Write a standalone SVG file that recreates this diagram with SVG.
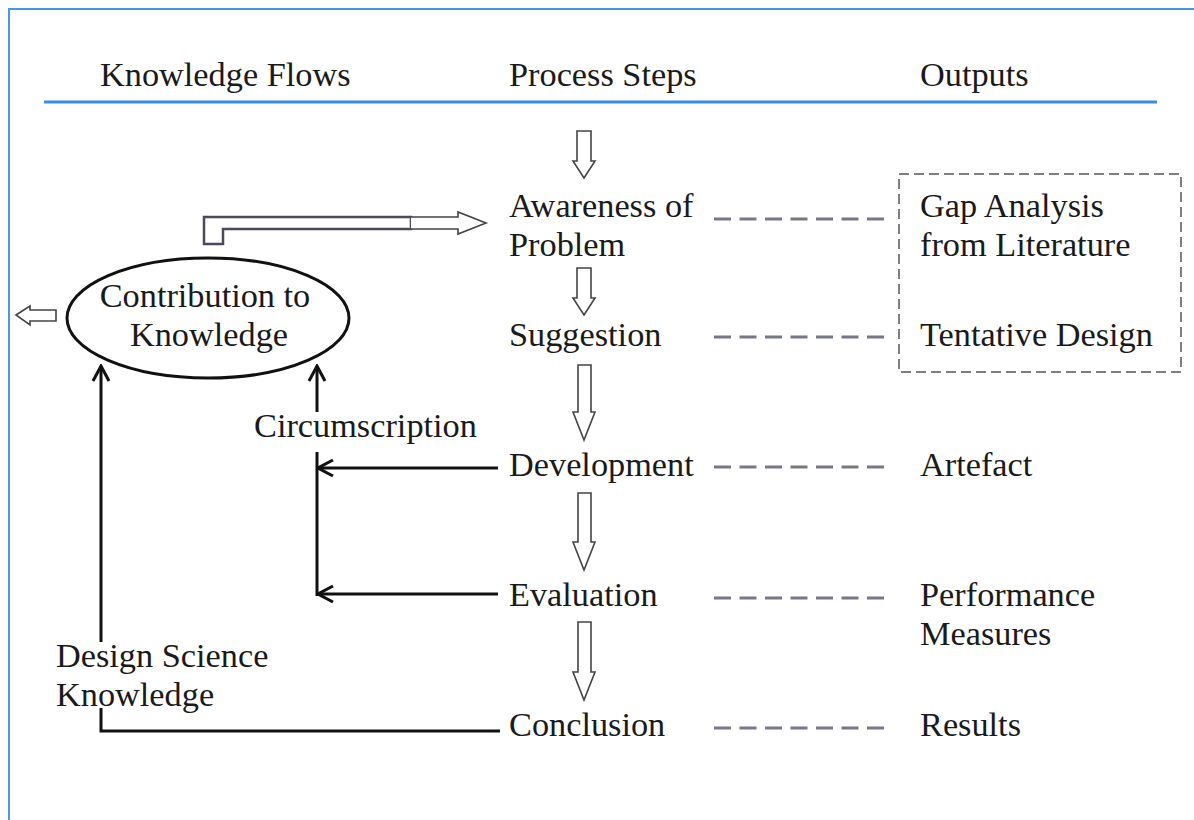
<svg xmlns="http://www.w3.org/2000/svg" width="1194" height="820" viewBox="0 0 1194 820">
<style>
text{font-family:"Liberation Serif","Times New Roman",serif;font-size:34.3px;fill:#1a1a1a}
.blk{stroke:#111;stroke-width:3;fill:none}
.dash{stroke:#77778a;stroke-width:3;stroke-dasharray:17 8.5;fill:none}
.hollow{fill:#fff;stroke:#444;stroke-width:1.6;stroke-linejoin:miter}
</style>
<defs>
<marker id="chev" viewBox="0 0 20 20" refX="18" refY="10" markerWidth="20" markerHeight="20" markerUnits="userSpaceOnUse" orient="auto">
<path d="M3,2 L18,10 L3,18" fill="none" stroke="#111" stroke-width="3"/>
</marker>
</defs>
<rect width="1194" height="820" fill="#fff"/>
<g id="frame">
<path d="M9,820 L9,9 L1194,9" fill="none" stroke="#4a94ee" stroke-width="2"/>
<line x1="44" y1="102" x2="1157" y2="102" stroke="#3a8ae8" stroke-width="3"/>
</g>
<g id="headers">
<text x="100" y="86">Knowledge Flows</text>
<text x="509" y="86">Process Steps</text>
<text x="920" y="86">Outputs</text>
</g>
<g id="contribution">
<ellipse cx="208" cy="318" rx="141" ry="60" fill="#fff" stroke="#111" stroke-width="3"/>
<text x="205" y="307" text-anchor="middle">Contribution to</text>
<text x="209" y="346" text-anchor="middle">Knowledge</text>
</g>
<g id="outArrowLeft">
<path class="hollow" d="M16,315 L30,306 L30,310 L56,310 L56,321 L30,321 L30,325 Z"/>
</g>
<g id="feedArrow">
<path d="M204,244 L204,217 L411,217 L411,229 L223,229 L223,244 Z" fill="#fff" stroke="#4a4a5a" stroke-width="2.5"/>
<path class="hollow" d="M411,217 L458,217 L458,212 L486,223 L458,234 L458,229 L411,229"/>
</g>
<g id="step-awareness">
<text x="509" y="217">Awareness of</text>
<text x="509" y="256">Problem</text>
</g>
<g id="step-suggestion"><text x="509" y="346">Suggestion</text></g>
<g id="step-development"><text x="509" y="476">Development</text></g>
<g id="step-evaluation"><text x="509" y="606">Evaluation</text></g>
<g id="step-conclusion"><text x="509" y="736">Conclusion</text></g>
<g id="outputBox">
<rect x="899" y="174" width="282" height="198" fill="none" stroke="#555" stroke-width="1.5" stroke-dasharray="10 5"/>
</g>
<g id="out-gap"><text x="920" y="217">Gap Analysis</text><text x="920" y="256">from Literature</text></g>
<g id="out-tentative"><text x="920" y="346">Tentative Design</text></g>
<g id="out-artefact"><text x="920" y="476">Artefact</text></g>
<g id="out-performance"><text x="920" y="606">Performance</text><text x="920" y="645">Measures</text></g>
<g id="out-results"><text x="920" y="736">Results</text></g>
<g id="labels">
<text x="254" y="437">Circumscription</text>
<text x="56" y="667">Design Science</text>
<text x="56" y="706">Knowledge</text>
</g>
<g id="connectors">
<path class="hollow" d="M577,131 L591,131 L591,161 L595,161 L584,178 L573,161 L577,161 Z"/>
<path class="hollow" d="M577,268 L591,268 L591,298 L595,298 L584,315 L573,298 L577,298 Z"/>
<path class="hollow" d="M578,365 L591,365 L591,412 L595,412 L584,440 L573,412 L578,412 Z"/>
<path class="hollow" d="M578,493 L591,493 L591,542 L595,542 L584,570 L573,542 L578,542 Z"/>
<path class="hollow" d="M578,622 L591,622 L591,672 L595,672 L584,700 L573,672 L578,672 Z"/>
<line class="blk" x1="317" y1="412" x2="317" y2="366" marker-end="url(#chev)"/>
<line class="blk" x1="317" y1="452" x2="317" y2="596"/>
<line class="blk" x1="498" y1="468" x2="318" y2="468" marker-end="url(#chev)"/>
<line class="blk" x1="498" y1="594" x2="318" y2="594" marker-end="url(#chev)"/>
<line class="blk" x1="101" y1="642" x2="101" y2="366" marker-end="url(#chev)"/>
<path class="blk" d="M101,708 L101,731 L500,731"/>
<line class="dash" x1="714" y1="219" x2="884" y2="219"/>
<line class="dash" x1="714" y1="337" x2="884" y2="337"/>
<line class="dash" x1="714" y1="467" x2="884" y2="467"/>
<line class="dash" x1="714" y1="598" x2="884" y2="598"/>
<line class="dash" x1="714" y1="728" x2="884" y2="728"/>
</g>
</svg>
